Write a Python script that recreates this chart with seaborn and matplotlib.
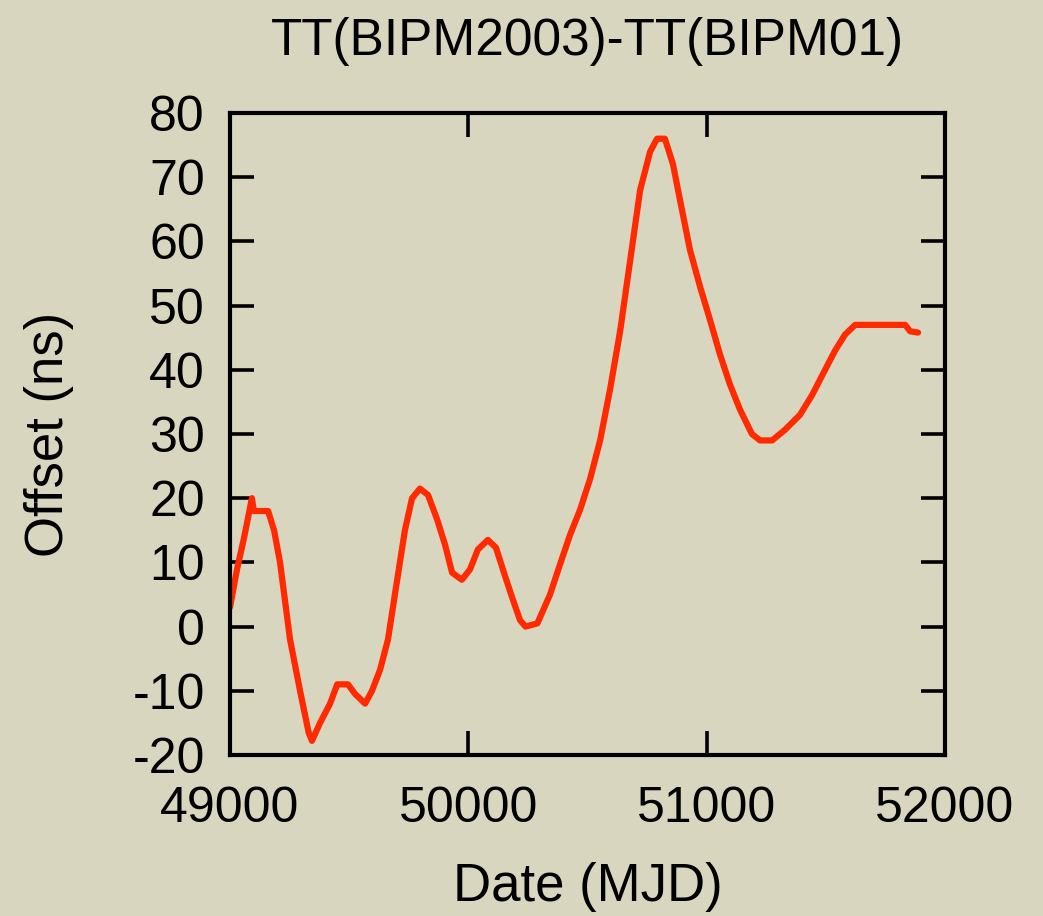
import numpy as np
import pandas as pd
import matplotlib
matplotlib.use("Agg")
import matplotlib.pyplot as plt
import seaborn as sns

# MJD dates and offsets (ns)
mjd = [49000, 49030, 49060, 49092, 49100, 49130, 49160, 49185, 49210, 49252, 49294,
       49330, 49344, 49378, 49420, 49450, 49495, 49525, 49567, 49596, 49630,
       49663, 49692, 49734, 49764, 49797, 49831, 49869, 49902, 49932, 49973,
       50007, 50040, 50082, 50116, 50153, 50187, 50217, 50240, 50290, 50343,
       50385, 50427, 50469, 50511, 50553, 50595, 50637, 50679, 50721, 50763,
       50792, 50825, 50859, 50888, 50930, 50972, 51014, 51056, 51098, 51140,
       51190, 51224, 51275, 51330, 51392, 51443, 51497, 51539, 51581, 51623,
       51686, 51760, 51833, 51854, 51887]
offset = [3, 9, 14, 20, 18, 18, 18, 15, 10, -2, -10,
          -16.5, -17.8, -15, -12, -9, -9, -10.5, -12, -10, -6.7,
          -2, 5, 15, 20, 21.5, 20.5, 16.7, 12.8, 8.4, 7.3,
          8.9, 12, 13.5, 12.3, 8, 4.2, 1, 0, 0.5, 5,
          9.7, 14.3, 18.2, 23, 29, 37, 46, 57, 68, 74,
          76, 76, 72, 66.5, 58.7, 53, 47.8, 42.4, 37.7, 33.8,
          30, 29, 29, 30.7, 33, 36.1, 40, 43, 45.5, 47,
          47, 47, 47, 46, 45.8]

xticks = [49000, 50000, 51000, 52000]
yticks = list(range(-20, 81, 10))

bg = "#d9d6c0"
sns.set_style("ticks")
plt.rcParams["font.family"] = ["Liberation Sans", "DejaVu Sans"]
plt.rcParams["axes.unicode_minus"] = False

df = pd.DataFrame({"mjd": mjd, "offset": offset})

fig = plt.figure(figsize=(10.43, 9.16), dpi=100, facecolor=bg)
ax = fig.add_axes([0.2205, 0.1758, 0.6855, 0.7008])
ax.set_facecolor(bg)

sns.lineplot(data=df, x="mjd", y="offset", ax=ax, color="#ff2a00", linewidth=4.5)

ax.set_xlim(49000, 52000)
ax.set_ylim(-20, 80)
ax.set_xticks(xticks)
ax.set_yticks(yticks)
ax.tick_params(direction="in", length=17, width=2.6, labelsize=36,
               top=True, right=True, colors="black")
ax.tick_params(axis="x", pad=22)
ax.tick_params(axis="y", pad=18)
for s in ax.spines.values():
    s.set_linewidth(3)
    s.set_color("black")

ax.set_xlabel("Date (MJD)", fontsize=38, labelpad=22, color="black")
ax.set_ylabel("Offset (ns)", fontsize=38, labelpad=42, color="black")
fig.text(0.563, 0.955, "TT(BIPM2003)-TT(BIPM01)", ha="center", va="center",
         fontsize=37, color="black")

fig.savefig("out.png", dpi=100, facecolor=bg)
